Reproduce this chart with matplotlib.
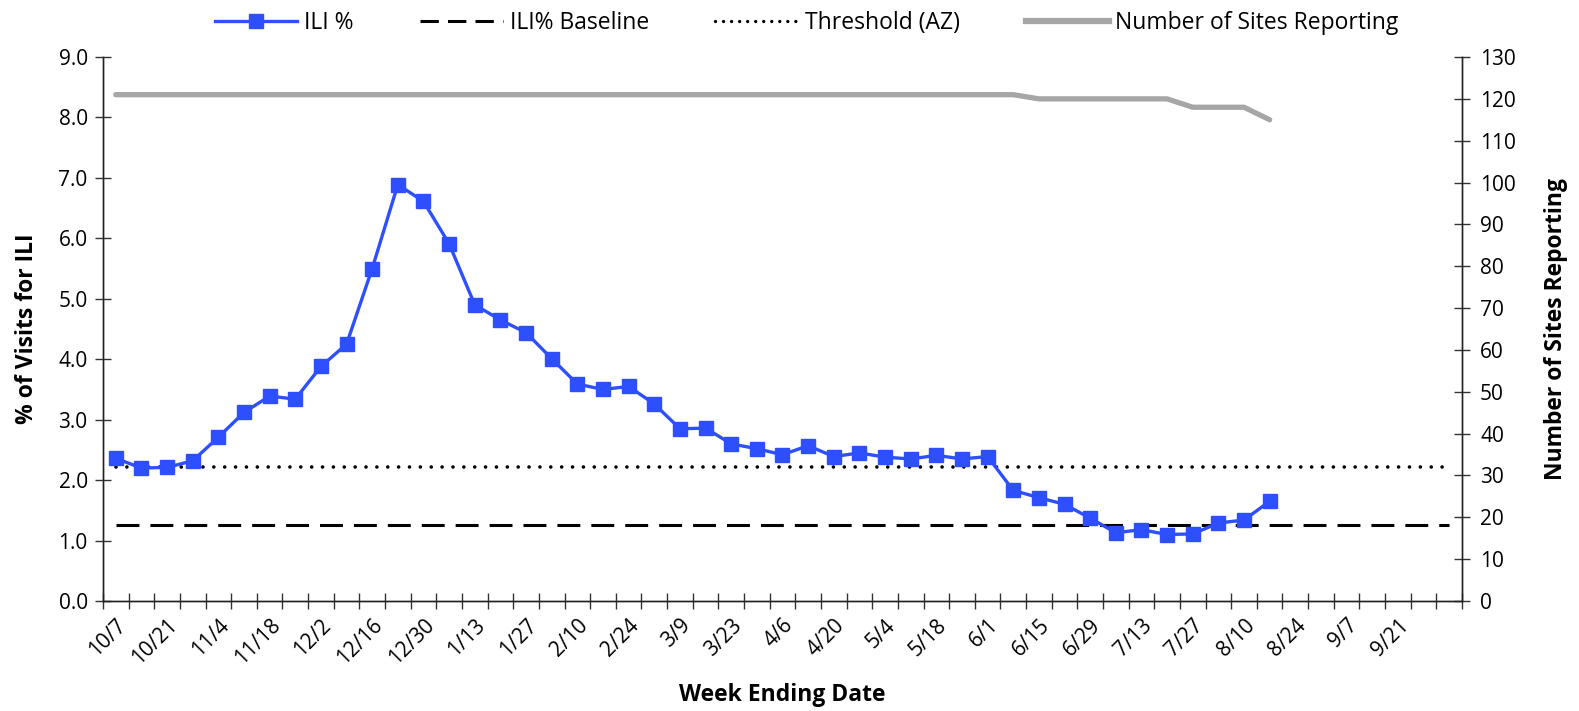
import matplotlib
matplotlib.use("Agg")
from matplotlib import pyplot as plt
from matplotlib.lines import Line2D
import numpy as np

plt.rcParams['font.family'] = ['Open Sans', 'DejaVu Sans']

# week ending dates, 10/7 through 10/5 (53 weeks)
weeks = ['10/7', '10/14', '10/21', '10/28', '11/4', '11/11', '11/18', '11/25',
         '12/2', '12/9', '12/16', '12/23', '12/30', '1/6', '1/13', '1/20',
         '1/27', '2/3', '2/10', '2/17', '2/24', '3/2', '3/9', '3/16', '3/23',
         '3/30', '4/6', '4/13', '4/20', '4/27', '5/4', '5/11', '5/18', '5/25',
         '6/1', '6/8', '6/15', '6/22', '6/29', '7/6', '7/13', '7/20', '7/27',
         '8/3', '8/10', '8/17', '8/24', '8/31', '9/7', '9/14', '9/21', '9/28',
         '10/5']

ili_pct = [2.36, 2.20, 2.21, 2.32, 2.71, 3.12, 3.39, 3.34, 3.88, 4.25,
           5.50, 6.89, 6.61, 5.91, 4.90, 4.65, 4.44, 4.01, 3.59, 3.50,
           3.55, 3.26, 2.85, 2.86, 2.60, 2.52, 2.42, 2.57, 2.39, 2.45,
           2.38, 2.35, 2.41, 2.35, 2.39, 1.83, 1.71, 1.60, 1.37, 1.13,
           1.18, 1.10, 1.11, 1.29, 1.34, 1.65]

sites = [121] * 36 + [120] * 6 + [118] * 3 + [115]

baseline = 1.25
threshold = 2.22

blue = '#2E4FFF'
gray = '#A6A6A6'

fig = plt.figure(figsize=(15.79, 7.11), dpi=100)
ax = fig.add_axes([0.0652, 0.1547, 0.8607, 0.7651])
ax2 = ax.twinx()

x_all = np.arange(len(weeks))
x_ili = np.arange(len(ili_pct))
x_sites = np.arange(len(sites))

ax2.plot(x_sites, sites, color=gray, lw=3.8, solid_capstyle='round', zorder=1)
ax.plot(x_all, [baseline] * len(weeks), color='black', lw=2.2,
        linestyle=(0, (7.5, 3.6)), zorder=2)
ax.plot(x_all, [threshold] * len(weeks), color='black', lw=2.6,
        linestyle=(0, (0.01, 3.0)), dash_capstyle='round', zorder=2)
ax.plot(x_ili, ili_pct, color=blue, lw=2.4, marker='s', markersize=10,
        markeredgecolor=blue, zorder=3)

# put the left axis above the twin so the blue line draws on top
ax.set_zorder(ax2.get_zorder() + 1)
ax.patch.set_visible(False)

ax.set_xlim(-0.5, len(weeks) - 0.5)
ax.set_ylim(0, 9)
ax2.set_ylim(0, 130)

ax.set_yticks(np.arange(0, 9.01, 1.0))
ax.set_yticklabels(['%.1f' % v for v in np.arange(0, 9.01, 1.0)], fontsize=15)
ax2.set_yticks(np.arange(0, 131, 10))
ax2.set_yticklabels([str(v) for v in range(0, 131, 10)], fontsize=15)

ax.set_xticks(np.arange(-0.5, len(weeks), 1.0))
ax.set_xticklabels([])
ax.set_xticks(x_all[::2][:-1], minor=True)
ax.set_xticklabels(weeks[::2][:-1], minor=True, rotation=45, ha='right',
                   rotation_mode='anchor', fontsize=15)
ax.tick_params(axis='x', which='major', direction='inout', length=12,
               width=1, color='#333333')
ax.tick_params(axis='x', which='minor', length=0, pad=10)
ax.tick_params(axis='y', direction='inout', length=12, width=1,
               color='#333333', pad=5)
ax2.tick_params(axis='y', direction='inout', length=12, width=1,
                color='#333333', pad=7)

for a in (ax, ax2):
    a.spines['top'].set_visible(False)
    for s in ('left', 'right', 'bottom'):
        a.spines[s].set_color('#222222')
        a.spines[s].set_linewidth(1.0)

ax.set_ylabel('% of Visits for ILI', fontsize=16.5, fontweight='bold', labelpad=14)
ax2.set_ylabel('Number of Sites Reporting', fontsize=16.5, fontweight='bold',
               labelpad=20)
ax.set_xlabel('Week Ending Date', fontsize=16.5, fontweight='bold', labelpad=10)

handles = [
    Line2D([], [], color=blue, lw=2.4, marker='s', markersize=10),
    Line2D([], [], color='black', lw=2.2, linestyle=(0, (6, 3))),
    Line2D([], [], color='black', lw=2.4, linestyle=(0, (0.01, 2.4)),
           dash_capstyle='round'),
    Line2D([], [], color=gray, lw=4.5),
]
labels = ['ILI %', 'ILI% Baseline', 'Threshold (AZ)', 'Number of Sites Reporting']
fig.legend(handles, labels, loc='upper center', bbox_to_anchor=(0.511, 1.013),
           ncol=4, frameon=False, fontsize=16.5, handlelength=3.6,
           columnspacing=2.9, handletextpad=0.3)

fig.savefig('out.png', dpi=100)
